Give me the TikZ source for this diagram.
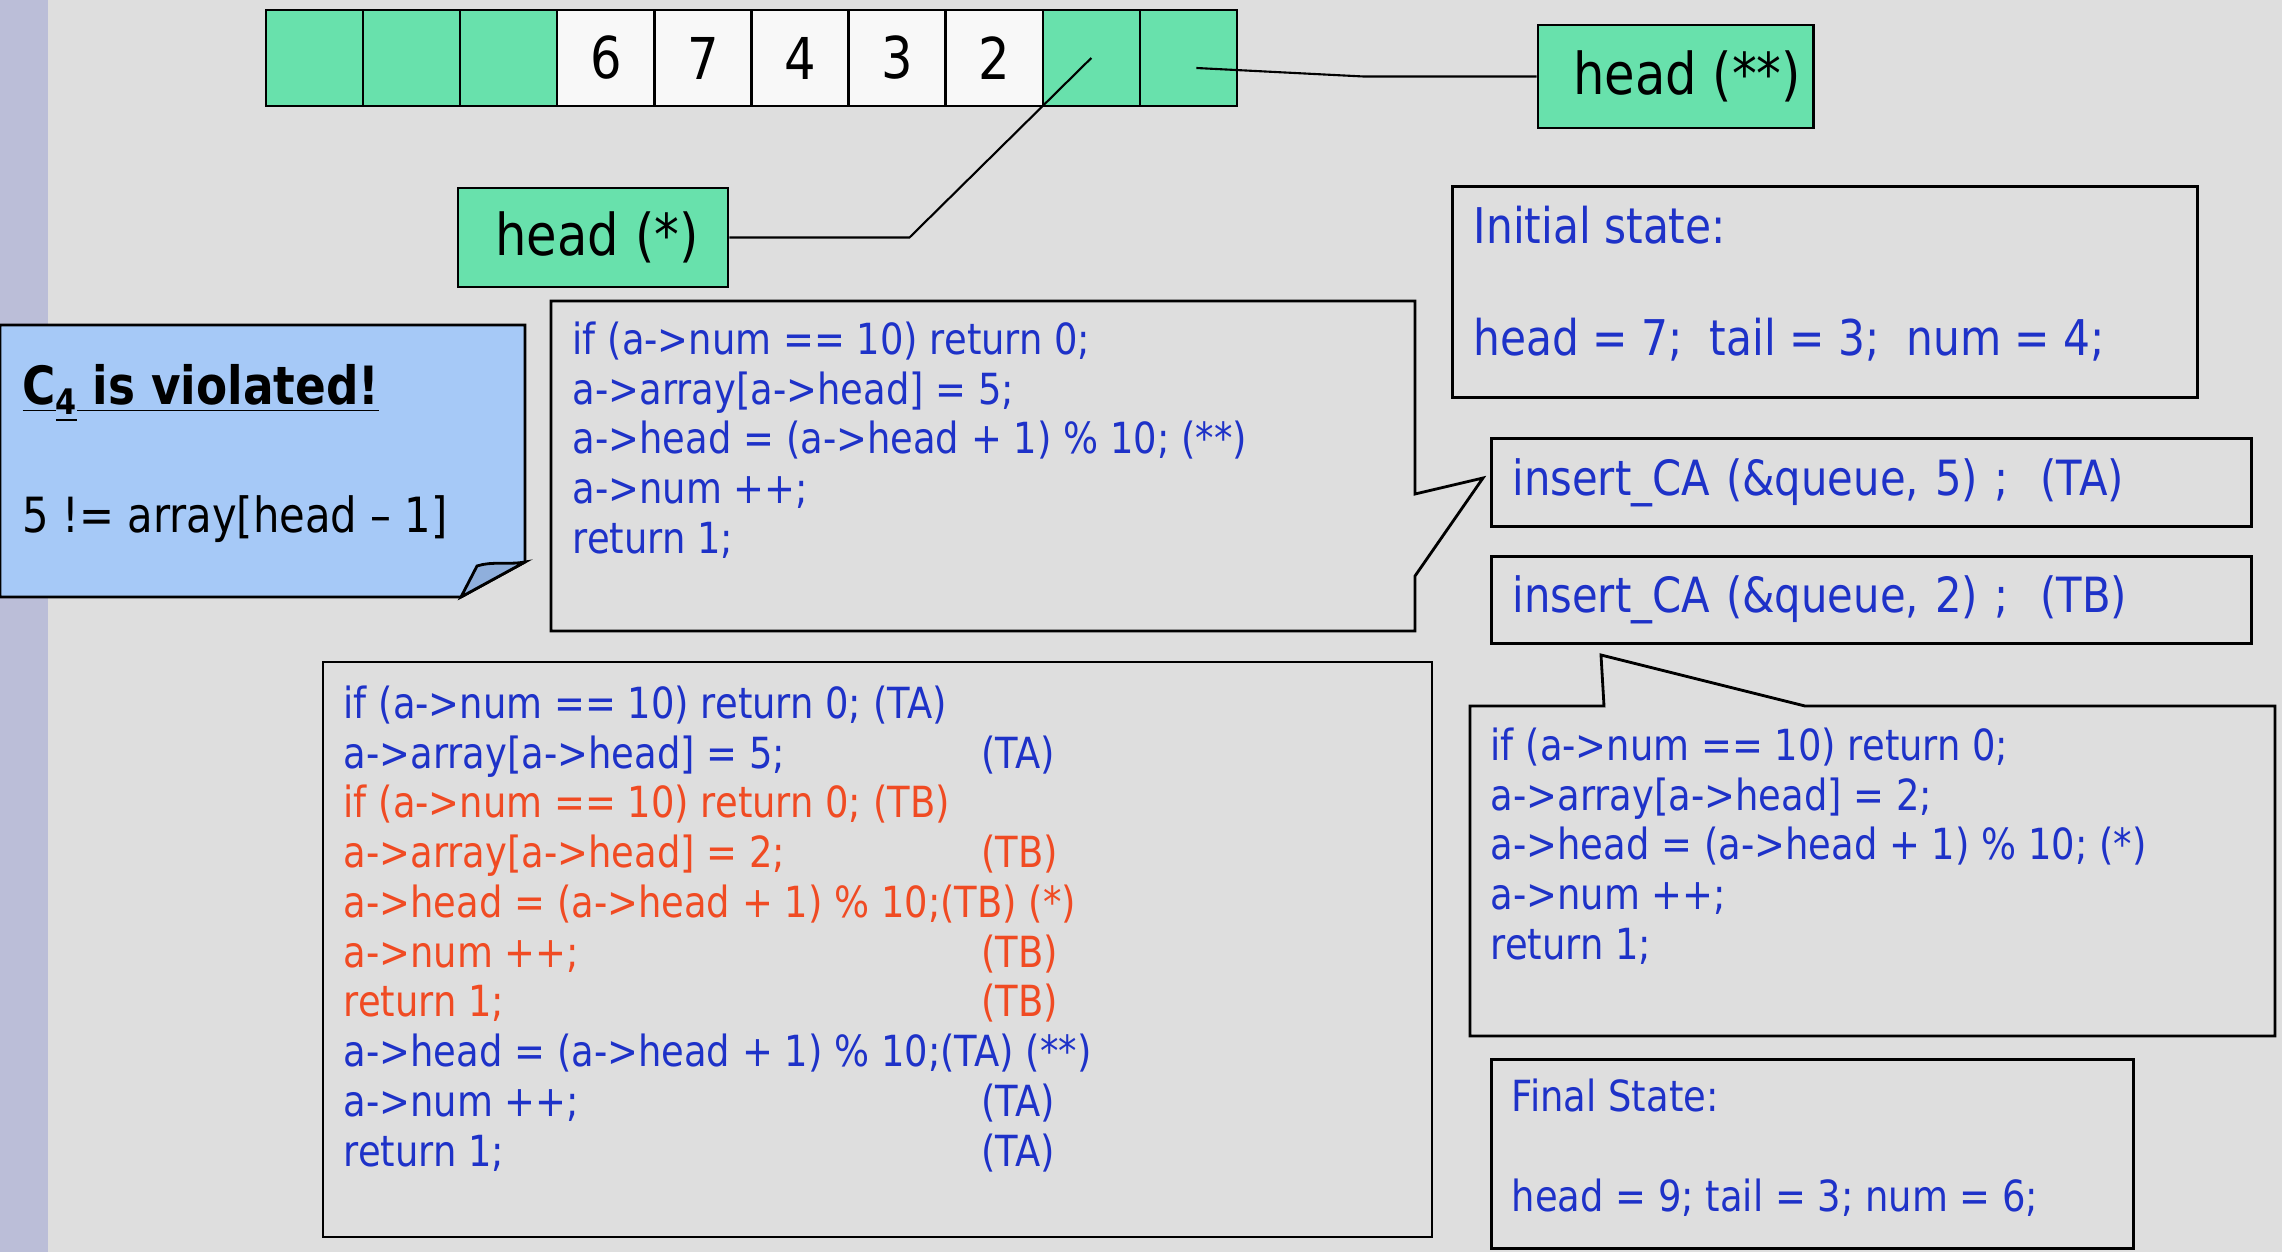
\documentclass[tikz,border=0pt]{standalone}
\usepackage{fontspec}
\setmainfont{DejaVu Sans}[FakeStretch=0.86]
\usepackage{xcolor}
\usepackage{tikz}
\definecolor{slidegray}{RGB}{222,222,222}
\definecolor{stripblue}{RGB}{187,190,216}
\definecolor{cellgreen}{RGB}{104,225,172}
\definecolor{cellwhite}{RGB}{248,248,248}
\definecolor{noteblue}{RGB}{166,201,247}
\definecolor{folddark}{RGB}{143,175,220}
\definecolor{codeblue}{RGB}{30,50,200}
\definecolor{codered}{RGB}{240,75,35}

\newcommand{\codesize}{\fontsize{12.2}{14.15}\selectfont}
\newcommand{\statesize}{\fontsize{14}{16}\selectfont}
\newcommand{\callsize}{\fontsize{13.8}{16}\selectfont}
\newcommand{\lblsize}{\fontsize{16.4}{19}\selectfont}
\newcommand{\notesize}{\fontsize{13.8}{16.5}\selectfont}

\tikzset{
  cellbox/.style={draw, line width=0.7pt, minimum width=0.971cm, minimum height=0.96cm, inner sep=0pt, font=\lblsize},
  headbox/.style={draw, line width=0.8pt, fill=cellgreen, inner sep=0pt, font=\lblsize},
  codetext/.style={anchor=north west, inner sep=0pt, align=left, text=codeblue, font=\codesize},
  framebox/.style={draw, line width=0.8pt},
  callbox/.style={draw, line width=0.8pt, anchor=north west, text width=7.18cm, inner xsep=0.21cm,
                  minimum height=0.88cm, align=left, text=codeblue, font=\callsize},
}

\begin{document}
\begin{tikzpicture}[x=0.01cm, y=-0.01cm]
    \useasboundingbox (0,0) rectangle (2282,1252);
    \fill[slidegray] (0,0) rectangle (2282,1252);
    \fill[stripblue] (0,0) rectangle (48,1252);

    % the circular array
    \foreach \i/\v/\c in {0//cellgreen, 1//cellgreen, 2//cellgreen, 3/6/cellwhite, 4/7/cellwhite,
                          5/4/cellwhite, 6/3/cellwhite, 7/2/cellwhite, 8//cellgreen, 9//cellgreen}
      \node[cellbox, fill=\c] (cell\i) at ({314.5+97.1*\i},58) {\v};

    \node[headbox, minimum width=2.75cm, minimum height=1.03cm] (headB) at (1675.5,76.5) {\hspace{0.23cm}head (**)};
    \node[headbox, minimum width=2.7cm, minimum height=0.99cm] (headA) at (593,237.5) {\hspace{0.08cm}head (*)};

    \draw[line width=0.6pt] (headA.east) -- ++(180,0) -- (cell8.center);
    \draw[line width=0.6pt] (headB.west) -- ++(-173,0) -- ([shift={(8,10)}]cell9.center);

    % sticky note
    \draw[line width=0.8pt, fill=noteblue] (0,325) -- (525,325) -- (525,562) -- (461,597) -- (0,597) -- cycle;
    \draw[line width=0.8pt, fill=folddark] (461,597) -- (477,566) .. controls (492,561) and (508,565) .. (525,562) -- cycle;
    \node[anchor=north west, inner sep=0pt, font=\fontsize{15}{18}\selectfont\bfseries] (violhead) at (22,364)
      {\underline{C}\raisebox{-0.35ex}{\underline{\fontsize{10}{12}\selectfont 4}}\underline{ is violated!}};
    \node[anchor=north west, inner sep=0pt, font=\notesize] (violbody) at (22,495) {5 != array[head -- 1]};

    % state boxes
    \node[framebox, anchor=north west, minimum width=7.45cm, minimum height=2.11cm] (initbox) at (1451,185) {};
    \node[codetext, font=\statesize] (inittext) at (1473,205)
      {Initial state:\\[16pt]head = 7;\ \ tail = 3;\ \ num = 4;};
    \node[framebox, anchor=north west, minimum width=6.42cm, minimum height=1.89cm] (finalbox) at (1490,1058) {};
    \node[codetext] (finaltext) at (1511,1078)
      {Final State:\\[14.2pt]head = 9; tail = 3; num = 6;};

    % the two calls
    \node[callbox] (insA) at (1490,437) {insert\_CA (\&queue, 5) ;\ \ (TA)};
    \node[callbox, minimum height=0.87cm] (insB) at (1490,555) {insert\_CA (\&queue, 2) ;\ \ (TB)};

    % callout for TA
    \draw[framebox] (551,301) -- (1415,301) -- (1415,494) -- (1483,478) -- (1415,576) -- (1415,631)
      -- (551,631) -- cycle;
    \node[codetext] (codeTA) at (572,321)
      {if (a->num == 10) return 0;\\
       a->array[a->head] = 5;\\
       a->head = (a->head + 1) \% 10; (**)\\
       a->num ++;\\
       return 1;};

    % callout for TB
    \draw[framebox] (1470,706) -- (1604,706) -- (1601,655) -- (1805,706) -- (2275,706) -- (2275,1036)
      -- (1470,1036) -- cycle;
    \node[codetext] (codeTB) at (1490,727)
      {if (a->num == 10) return 0;\\
       a->array[a->head] = 2;\\
       a->head = (a->head + 1) \% 10; (*)\\
       a->num ++;\\
       return 1;};

    % interleaved run
    \draw[framebox] (323,662) rectangle (1432,1237);
    \node[codetext] (mixed) at (343,685)
      {if (a->num == 10) return 0; (TA)\\
       \makebox[6.37cm][l]{a->array[a->head] = 5;}(TA)\\
       \textcolor{codered}{if (a->num == 10) return 0; (TB)}\\
       \textcolor{codered}{\makebox[6.37cm][l]{a->array[a->head] = 2;}(TB)}\\
       \textcolor{codered}{a->head = (a->head + 1) \% 10;(TB) (*)}\\
       \textcolor{codered}{\makebox[6.37cm][l]{a->num ++;}(TB)}\\
       \textcolor{codered}{\makebox[6.37cm][l]{return 1;}(TB)}\\
       a->head = (a->head + 1) \% 10;(TA) (**)\\
       \makebox[6.37cm][l]{a->num ++;}(TA)\\
       \makebox[6.37cm][l]{return 1;}(TA)};
  \end{tikzpicture}
\end{document}
